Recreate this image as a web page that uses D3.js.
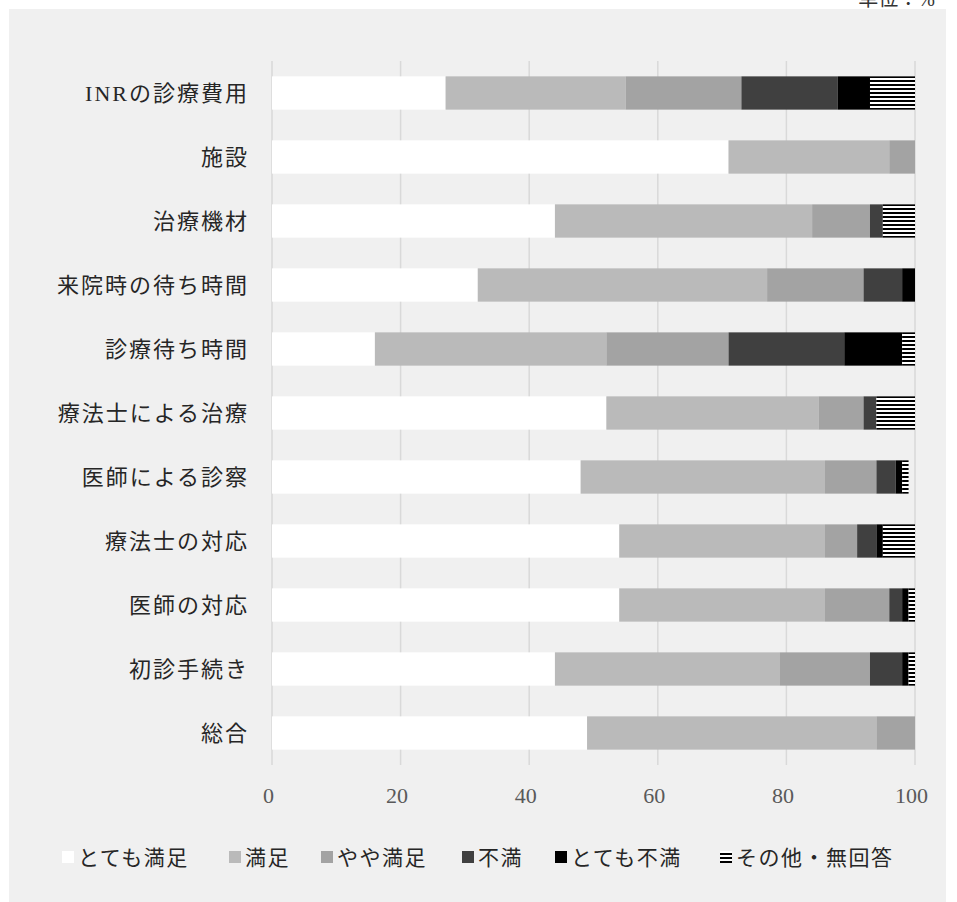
<!DOCTYPE html>
<html><head><meta charset="utf-8">
<script src="https://cdn.jsdelivr.net/npm/d3@7"></script>
<style>
body{margin:0;background:#fff;}
svg text{font-family:"Liberation Serif","Noto Sans CJK JP",serif;}
</style></head>
<body><svg id="c" width="957" height="902"></svg>
<script>
const categories = ["INRの診療費用","施設","治療機材","来院時の待ち時間","診療待ち時間","療法士による治療","医師による診察","療法士の対応","医師の対応","初診手続き","総合"];
const seriesNames = ["とても満足","満足","やや満足","不満","とても不満","その他・無回答"];
const veryGood  = [27,71,44,32,16,52,48,54,54,44,49];
const good      = [28,25,40,45,36,33,38,32,32,35,45];
const fairGood  = [18, 4, 9,15,19, 7, 8, 5,10,14, 6];
const bad       = [15, 0, 2, 6,18, 2, 3, 3, 2, 5, 0];
const veryBad   = [ 5, 0, 0, 2, 9, 0, 1, 1, 1, 1, 0];
const other     = [ 7, 0, 5, 0, 2, 6, 1, 5, 1, 1, 0];
const xTicks = [0,20,40,60,80,100];
const unitLabel = "単位：%";

const seriesValues = [veryGood, good, fairGood, bad, veryBad, other];
const fills = ["#ffffff","#bababa","#a3a3a3","#404040","#000000","url(#hatch)"];

const svg = d3.select("#c");
const defs = svg.append("defs");
const pat = defs.append("pattern").attr("id","hatch").attr("patternUnits","userSpaceOnUse")
  .attr("width",8).attr("height",4);
pat.append("rect").attr("width",8).attr("height",4).attr("fill","#fff");
pat.append("rect").attr("y",0).attr("width",8).attr("height",2).attr("fill","#000");

// panel
svg.append("rect").attr("x",9).attr("y",9).attr("width",937).attr("height",893).attr("fill","#f0f0f0");
svg.append("text").attr("x",935).attr("y",6).attr("text-anchor","end")
  .attr("font-size",20).attr("fill","#333").text(unitLabel);

const x = d3.scaleLinear().domain([0,100]).range([272,915]);
const y = d3.scaleBand().domain(categories).range([61,765]).paddingInner(0.48).paddingOuter(0.24);

// gridlines
svg.append("g").selectAll("line").data(xTicks).join("line")
  .attr("x1",d=>x(d)).attr("x2",d=>x(d)).attr("y1",61).attr("y2",765)
  .attr("stroke","#d9d9d9").attr("stroke-width",1.5);

// stacked data
const rows = categories.map((c,i)=>{const o={cat:c}; seriesNames.forEach((s,j)=>o[s]=seriesValues[j][i]); return o;});
const stacked = d3.stack().keys(seriesNames)(rows);

svg.append("g").selectAll("g").data(stacked).join("g")
  .attr("fill",(d,i)=>fills[i])
  .selectAll("rect").data(d=>d).join("rect")
  .attr("x",d=>x(d[0])).attr("width",d=>x(d[1])-x(d[0]))
  .attr("y",d=>y(d.data.cat)).attr("height",y.bandwidth());

// y labels
svg.append("g").selectAll("text").data(categories).join("text")
  .attr("x",249).attr("y",d=>y(d)+y.bandwidth()/2).attr("dy","0.36em")
  .attr("text-anchor","end").attr("font-size",22).attr("letter-spacing","2px")
  .attr("fill","#262626").text(d=>d);

// x axis
const xAxis = d3.axisBottom(x).tickValues(xTicks).tickSize(0).tickPadding(0);
const gx = svg.append("g").attr("transform","translate(-4,795)").call(xAxis);
gx.select(".domain").remove();
gx.selectAll("text").attr("font-size",22).attr("fill","#595959").attr("dy","0.36em")
  .style("font-family","'Liberation Serif',serif");

// legend
const legX = [62,229,321,462,555,720];
const lg = svg.append("g").selectAll("g").data(seriesNames).join("g")
  .attr("transform",(d,i)=>`translate(${legX[i]},857)`);
lg.append("rect").attr("x",0).attr("y",-6).attr("width",12).attr("height",12)
  .attr("fill",(d,i)=>fills[i]);
lg.append("text").attr("x",16).attr("y",0).attr("dy","0.36em").attr("font-size",21)
  .attr("letter-spacing","1.5px").attr("fill","#262626").text(d=>d);
</script></body></html>
